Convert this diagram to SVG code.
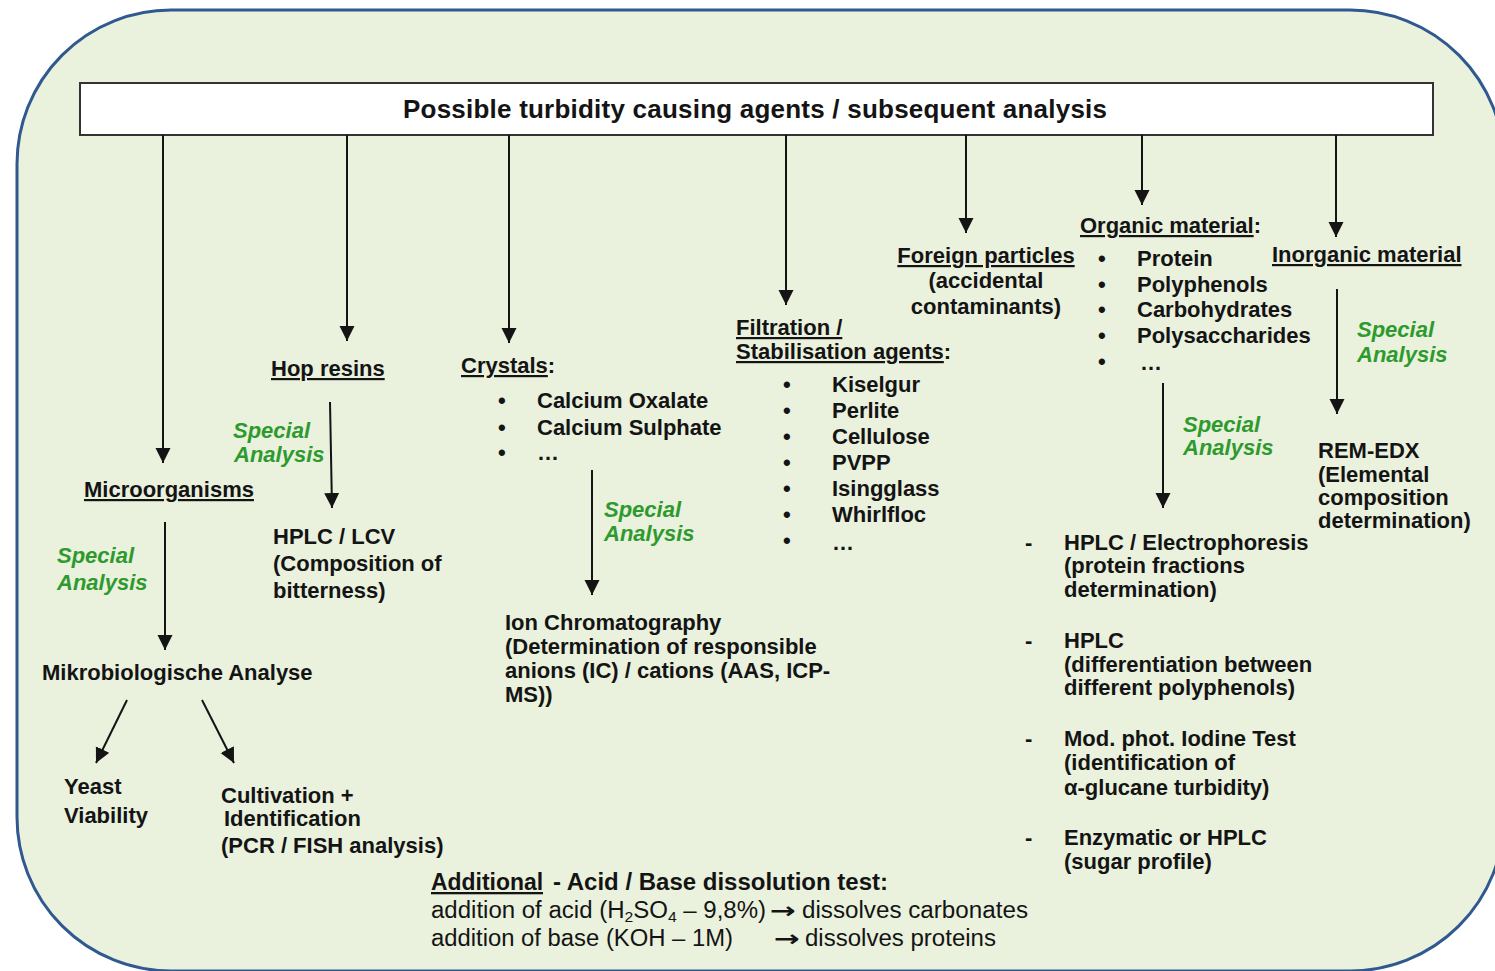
<svg xmlns="http://www.w3.org/2000/svg" width="1495" height="971" viewBox="0 0 1495 971">
<style>
.t{font-family:"Liberation Sans",Arial,sans-serif;font-weight:bold;font-size:22px;fill:#141414}
.title{font-size:26px}
.g{font-family:"Liberation Sans",Arial,sans-serif;font-weight:bold;font-style:italic;font-size:22px;fill:#2E9A2E}
.n{font-family:"Liberation Sans Narrow","Liberation Sans",Arial,sans-serif;font-size:23px;fill:#141414}
.nb{font-family:"Liberation Sans Narrow","Liberation Sans",Arial,sans-serif;font-size:23px;font-weight:bold;fill:#141414}
.ar{font-family:"DejaVu Sans",sans-serif;font-size:22px;font-weight:bold;fill:#141414}
.u{text-decoration:underline}
.c{stroke:#141414;stroke-width:2;fill:none;marker-end:url(#ah)}
.m{text-anchor:middle}
</style>
<defs>
<marker id="ah" markerUnits="userSpaceOnUse" markerWidth="16" markerHeight="16" refX="15" refY="7.5" orient="auto">
<path d="M0,0 L15,7.5 L0,15 Z" fill="#141414"/>
</marker>
</defs>
<rect x="17" y="10" width="1487" height="961" rx="154" ry="154" fill="#EAF1DD" stroke="#30598F" stroke-width="3"/>

<g id="header">
<rect x="80" y="83" width="1353" height="52" fill="#FFFFFF" stroke="#333333" stroke-width="2"/>
<text class="t title" x="403" y="118" textLength="704" lengthAdjust="spacing">Possible turbidity causing agents / subsequent analysis</text>
</g>

<g id="connectors">
<line class="c" x1="163" y1="135" x2="163" y2="463"/>
<line class="c" x1="347" y1="135" x2="347" y2="341"/>
<line class="c" x1="509" y1="135" x2="509" y2="343"/>
<line class="c" x1="786" y1="135" x2="786" y2="305"/>
<line class="c" x1="966" y1="135" x2="966" y2="233"/>
<line class="c" x1="1142" y1="135" x2="1142" y2="205"/>
<line class="c" x1="1336" y1="135" x2="1336" y2="237"/>
<line class="c" x1="165" y1="522" x2="165" y2="650"/>
<line class="c" x1="330" y1="402" x2="332" y2="508"/>
<line class="c" x1="592" y1="470" x2="592" y2="595"/>
<line class="c" x1="1163" y1="383" x2="1163" y2="508"/>
<line class="c" x1="1337" y1="289" x2="1337" y2="414"/>
<line class="c" x1="127" y1="700" x2="96" y2="763"/>
<line class="c" x1="202" y1="700" x2="234" y2="763"/>
<g id="labels">
<text class="g" x="57" y="563">Special</text>
<text class="g" x="57" y="590">Analysis</text>
<text class="g" x="233" y="438">Special</text>
<text class="g" x="234" y="462">Analysis</text>
<text class="g" x="604" y="517">Special</text>
<text class="g" x="604" y="541">Analysis</text>
<text class="g" x="1183" y="432">Special</text>
<text class="g" x="1183" y="455">Analysis</text>
<text class="g" x="1357" y="337">Special</text>
<text class="g" x="1357" y="362">Analysis</text>
</g>
</g>

<g id="microorganisms">
<text class="t u" x="84" y="497">Microorganisms</text>
</g>
<g id="mikrobiologische">
<text class="t" x="42" y="680">Mikrobiologische Analyse</text>
</g>
<g id="yeast">
<text class="t" x="64" y="794">Yeast</text>
<text class="t" x="64" y="823">Viability</text>
</g>
<g id="cultivation">
<text class="t" x="221" y="803">Cultivation +</text>
<text class="t" x="224" y="826">Identification</text>
<text class="t" x="221" y="853">(PCR / FISH analysis)</text>
</g>

<g id="hop-resins">
<text class="t u" x="271" y="376">Hop resins</text>
</g>
<g id="hplc-lcv">
<text class="t" x="273" y="544">HPLC / LCV</text>
<text class="t" x="273" y="571">(Composition of</text>
<text class="t" x="273" y="598">bitterness)</text>
</g>

<g id="crystals">
<text class="t" x="461" y="373"><tspan class="u">Crystals</tspan>:</text>
<text class="t" x="498" y="408">•</text>
<text class="t" x="537" y="408">Calcium Oxalate</text>
<text class="t" x="498" y="435">•</text>
<text class="t" x="537" y="435">Calcium Sulphate</text>
<text class="t" x="498" y="460">•</text>
<text class="t" x="537" y="460">…</text>
</g>
<g id="ion-chromatography">
<text class="t" x="505" y="630">Ion Chromatography</text>
<text class="t" x="505" y="654">(Determination of responsible</text>
<text class="t" x="505" y="678">anions (IC) / cations (AAS, ICP-</text>
<text class="t" x="505" y="702">MS))</text>
</g>

<g id="filtration">
<text class="t u" x="736" y="335">Filtration /</text>
<text class="t" x="736" y="359"><tspan class="u">Stabilisation agents</tspan>:</text>
<text class="t" x="783" y="392">•</text><text class="t" x="832" y="392">Kiselgur</text>
<text class="t" x="783" y="418">•</text><text class="t" x="832" y="418">Perlite</text>
<text class="t" x="783" y="444">•</text><text class="t" x="832" y="444">Cellulose</text>
<text class="t" x="783" y="470">•</text><text class="t" x="832" y="470">PVPP</text>
<text class="t" x="783" y="496">•</text><text class="t" x="832" y="496">Isingglass</text>
<text class="t" x="783" y="522">•</text><text class="t" x="832" y="522">Whirlfloc</text>
<text class="t" x="783" y="548">•</text><text class="t" x="832" y="550">…</text>
</g>

<g id="foreign-particles">
<text class="t u m" x="986" y="263">Foreign particles</text>
<text class="t m" x="986" y="288">(accidental</text>
<text class="t m" x="986" y="314">contaminants)</text>
</g>

<g id="organic-material">
<text class="t" x="1080" y="233"><tspan class="u">Organic material</tspan>:</text>
<text class="t" x="1098" y="266">•</text><text class="t" x="1137" y="266">Protein</text>
<text class="t" x="1098" y="292">•</text><text class="t" x="1137" y="292">Polyphenols</text>
<text class="t" x="1098" y="317">•</text><text class="t" x="1137" y="317">Carbohydrates</text>
<text class="t" x="1098" y="343">•</text><text class="t" x="1137" y="343">Polysaccharides</text>
<text class="t" x="1098" y="369">•</text><text class="t" x="1140" y="370">…</text>
</g>
<g id="organic-analysis">
<text class="t" x="1025" y="550">-</text>
<text class="t" x="1064" y="550">HPLC / Electrophoresis</text>
<text class="t" x="1064" y="573">(protein fractions</text>
<text class="t" x="1064" y="597">determination)</text>
<text class="t" x="1025" y="648">-</text>
<text class="t" x="1064" y="648">HPLC</text>
<text class="t" x="1064" y="672">(differentiation between</text>
<text class="t" x="1064" y="695">different polyphenols)</text>
<text class="t" x="1025" y="746">-</text>
<text class="t" x="1064" y="746">Mod. phot. Iodine Test</text>
<text class="t" x="1064" y="770">(identification of</text>
<text class="t" x="1064" y="795">α-glucane turbidity)</text>
<text class="t" x="1025" y="845">-</text>
<text class="t" x="1064" y="845">Enzymatic or HPLC</text>
<text class="t" x="1064" y="869">(sugar profile)</text>
</g>

<g id="inorganic-material">
<text class="t u" x="1272" y="262">Inorganic material</text>
</g>
<g id="rem-edx">
<text class="t" x="1318" y="458">REM-EDX</text>
<text class="t" x="1318" y="482">(Elemental</text>
<text class="t" x="1318" y="505">composition</text>
<text class="t" x="1318" y="528">determination)</text>
</g>

<g id="additional">
<text class="nb u" x="431" y="890" textLength="112" lengthAdjust="spacingAndGlyphs">Additional</text>
<text class="nb" x="553" y="890" textLength="335" lengthAdjust="spacingAndGlyphs">- Acid  / Base dissolution  test:</text>
<text class="n" x="431" y="918" textLength="335" lengthAdjust="spacingAndGlyphs">addition of acid (H<tspan font-size="15" dy="4">2</tspan><tspan dy="-4">SO</tspan><tspan font-size="15" dy="4">4</tspan><tspan dy="-4"> – 9,8%)</tspan></text>
<text class="ar" x="770" y="918" textLength="26" lengthAdjust="spacingAndGlyphs">→</text>
<text class="n" x="802" y="918" textLength="226" lengthAdjust="spacingAndGlyphs">dissolves carbonates</text>
<text class="n" x="431" y="946" textLength="302" lengthAdjust="spacingAndGlyphs">addition of base (KOH – 1M)</text>
<text class="ar" x="774" y="946" textLength="26" lengthAdjust="spacingAndGlyphs">→</text>
<text class="n" x="805" y="946" textLength="191" lengthAdjust="spacingAndGlyphs">dissolves proteins</text>
</g>
</svg>
